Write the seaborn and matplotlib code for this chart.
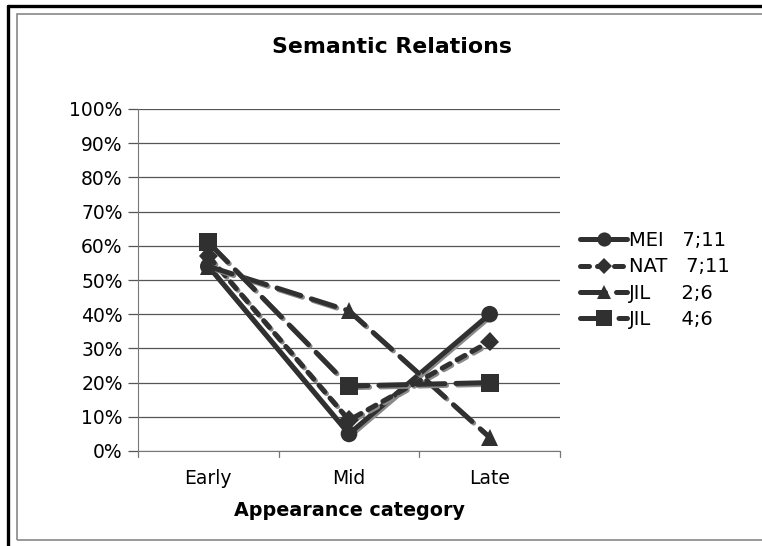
import matplotlib
matplotlib.use("Agg")
import matplotlib.pyplot as plt
import matplotlib.patheffects as pe
from matplotlib.patches import Rectangle
from matplotlib.lines import Line2D
from matplotlib.ticker import FixedLocator, FuncFormatter
import seaborn as sns
import pandas as pd
import numpy as np

categories = ["Early", "Mid", "Late"]
series_names = ["MEI   7;11", "NAT   7;11", "JIL     2;6", "JIL     4;6"]
mei = [54, 5, 40]
nat = [57, 9, 32]
jil26 = [54, 41, 4]
jil46 = [61, 19, 20]
values = [mei, nat, jil26, jil46]

rows = []
for name, vals in zip(series_names, values):
    for i, (c, v) in enumerate(zip(categories, vals)):
        rows.append({"cat": c, "pos": i, "series": name, "value": v})
df = pd.DataFrame(rows)

sns.set_style("white")
plt.rcParams["font.family"] = ["DejaVu Sans"]
plt.rcParams["text.color"] = "black"
plt.rcParams["axes.labelcolor"] = "black"
plt.rcParams["xtick.color"] = "black"
plt.rcParams["ytick.color"] = "black"

fig = plt.figure(figsize=(7.62, 5.46), dpi=100)
ax = fig.add_axes([138/762, 1-451/546, (560-138)/762, (451-109)/546])

col = "#303030"
markers = {series_names[0]: "o", series_names[1]: "D", series_names[2]: "^", series_names[3]: "s"}
dashes = {series_names[0]: "", series_names[1]: (1.8, 1.6),
          series_names[2]: (5, 2.2), series_names[3]: (5.5, 2.2)}
msizes = {series_names[0]: 12, series_names[1]: 10, series_names[2]: 12, series_names[3]: 13}

sns.lineplot(data=df, x="pos", y="value", hue="series", style="series",
             palette=[col]*4, markers=markers, dashes=dashes,
             linewidth=3.6, markeredgewidth=0, ax=ax, legend=False,
             hue_order=series_names, style_order=series_names)

shadow = [pe.SimpleLineShadow(offset=(1.2, -1.2), shadow_color="#8a8a8a", alpha=1.0), pe.Normal()]
for ln, name in zip(ax.lines, series_names):
    ln.set_markersize(msizes[name])
    ln.set_dash_capstyle("round")
    ln.set_solid_capstyle("round")
    ln.set_path_effects(shadow)

ax.set_xlim(-0.5, 2.5)
ax.set_ylim(0, 100)
ax.yaxis.set_major_locator(FixedLocator(np.arange(0, 101, 10)))
ax.yaxis.set_major_formatter(FuncFormatter(lambda v, p: f"{int(round(v))}%"))
ax.set_xticks(range(3))
ax.set_xticklabels(categories)
ax.grid(axis="y", color="#555555", linewidth=0.9)
ax.set_axisbelow(True)
for s in ["top", "right"]:
    ax.spines[s].set_visible(False)
ax.spines["left"].set_color("#777777")
ax.spines["bottom"].set_color("#777777")
ax.tick_params(axis="y", length=7, width=0.9, color="#555555", labelsize=13.5, pad=4, left=True)
ax.tick_params(axis="x", length=0, labelsize=13.5, pad=13)
for xb in [-0.5, 0.5, 1.5, 2.5]:
    ax.plot([xb, xb], [0, -1.8], color="#777777", lw=0.9, clip_on=False)
ax.set_xlabel("Appearance category", fontsize=13.8, fontweight="bold", labelpad=9)
ax.set_ylabel("")
fig.text(392/762, 1-47/546, "Semantic Relations", ha="center", va="center",
         fontsize=15.8, fontweight="bold")

handles = []
for name in series_names:
    h = Line2D([], [], color=col, lw=3.6, linestyle=(0, dashes[name]) if dashes[name] else "-",
               marker=markers[name], markersize=msizes[name]*0.85, markeredgewidth=0,
               dash_capstyle="round", solid_capstyle="round")
    handles.append(h)
leg = fig.legend(handles=handles, labels=series_names, loc="center left",
                 bbox_to_anchor=(572/762, 1-280/546), frameon=False, fontsize=14,
                 handlelength=2.45, handletextpad=0.1, labelspacing=0.38, borderaxespad=0)

fig.add_artist(Line2D([8/762, 8/762], [0, 1-6/546], transform=fig.transFigure, color="black", lw=2.4))
fig.add_artist(Line2D([8/762, 1], [1-6/546, 1-6/546], transform=fig.transFigure, color="black", lw=2.4))
fig.add_artist(Rectangle((17/762, 1-540/546), 1.0, (540-14)/546, transform=fig.transFigure,
                         fill=False, edgecolor="#888888", lw=1.2))

fig.savefig("out.png", dpi=100)
